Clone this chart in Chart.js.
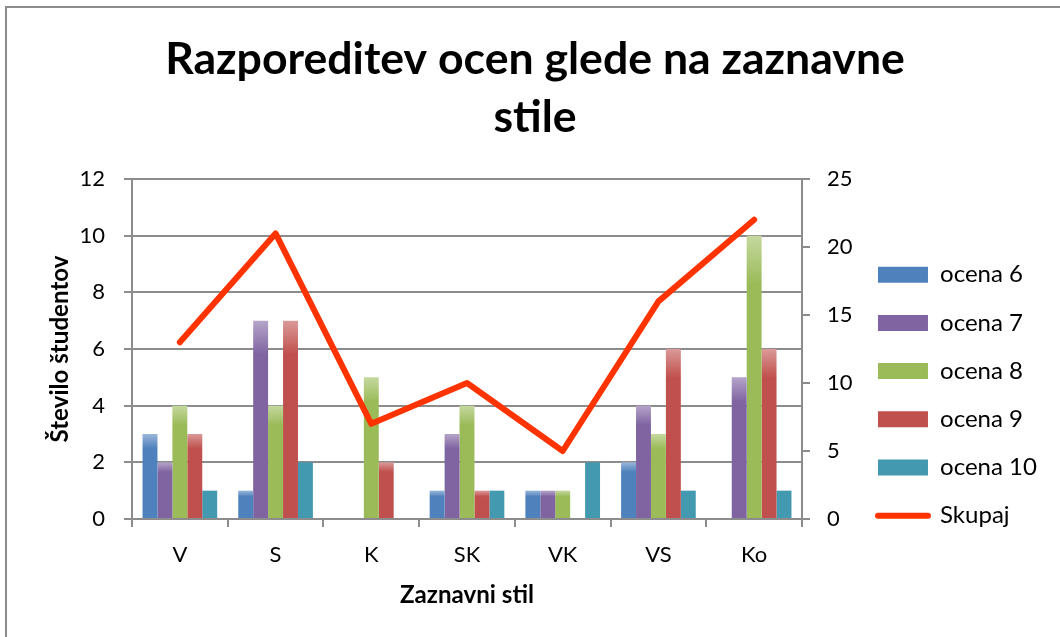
<!DOCTYPE html>
<html>
<head>
<meta charset="utf-8">
<script src="https://cdn.jsdelivr.net/npm/chart.js@4/dist/chart.umd.min.js"></script>
<style>
html,body{margin:0;padding:0;background:#fff;}
canvas{display:block;}
</style>
</head>
<body>
<canvas id="c" width="1060" height="637"></canvas>
<script>
// ---- data ----
const categories = ['V', 'S', 'K', 'SK', 'VK', 'VS', 'Ko'];
const ocena6  = [3, 1, 0, 1, 1, 2, 0];
const ocena7  = [2, 7, 0, 3, 1, 4, 5];
const ocena8  = [4, 4, 5, 4, 1, 3, 10];
const ocena9  = [3, 7, 2, 1, 0, 6, 6];
const ocena10 = [1, 2, 0, 1, 2, 1, 1];
const skupaj  = [13, 21, 7, 10, 5, 16, 22];
const seriesNames = ['ocena 6', 'ocena 7', 'ocena 8', 'ocena 9', 'ocena 10', 'Skupaj'];
const leftTicks  = [0, 2, 4, 6, 8, 10, 12];
const rightTicks = [0, 5, 10, 15, 20, 25];
const titleLines = ['Razporeditev ocen glede na zaznavne', 'stile'];
const xTitle = 'Zaznavni stil';
const yTitle = 'Število študentov';

// ---- styles ----
const FONT = 'Lato, "Open Sans", sans-serif';
const barColors = ['#4F81BD', '#8064A2', '#9BBB59', '#C0504D', '#4299B0'];
const lineColor = '#FF3300';
const gridColor = '#8c8c8c';

function fitSize(text, weight, target) {
  const c = document.createElement('canvas').getContext('2d');
  c.font = weight + ' 100px ' + FONT;
  return 100 * target / c.measureText(text).width;
}
function measure(text, weight, size) {
  const c = document.createElement('canvas').getContext('2d');
  c.font = weight + ' ' + size + 'px ' + FONT;
  return c.measureText(text).width;
}
function lighten(hex, f) {
  const n = parseInt(hex.slice(1), 16);
  const r = (n >> 16) & 255, g = (n >> 8) & 255, b = n & 255;
  const m = v => Math.round(v + (255 - v) * f);
  return 'rgb(' + m(r) + ',' + m(g) + ',' + m(b) + ')';
}

const titleSize = fitSize(titleLines[0], 'bold', 740);
const tickSize = fitSize('10', 'normal', 25.5);
const legSize = fitSize('ocena 10', 'normal', 97);
const axTitleSize = fitSize(xTitle, 'bold', 134);

// layout targets
const AREA_L = 132, AREA_R = 802;
const legBoxW = 50, legBoxH = 16;
const legItemH = Math.max(legSize, legBoxH);
const legPad = 48.2 - legItemH;
const textStart = 940;
const itemStart = textStart - legSize / 2 - legBoxW;
const legTextW = measure('ocena 10', 'normal', legSize);
const legendRight = itemStart + legBoxW + legSize / 2 + legTextW + 10;
const padR = 1060 - legendRight;
const padL = 10 + padR;
const legendLeft = itemStart - legPad;
const legTitleH = 274.7 - legItemH / 2 - legPad;

function gradFill(i) {
  const base = barColors[i];
  const light = lighten(base, 0.42);
  return (ctx) => {
    if (ctx.type !== 'data') return base;
    const ch = ctx.chart;
    const ys = ch.scales.y;
    if (!ys || !ch.chartArea || i === 4) return base;
    const top = ys.getPixelForValue(ctx.raw);
    const bot = ys.getPixelForValue(0);
    const h = bot - top;
    if (h < 2) return base;
    const g = ch.ctx.createLinearGradient(0, top, 0, top + Math.max(6, h * 0.17));
    g.addColorStop(0, light);
    g.addColorStop(1, base);
    return g;
  };
}

const barSeries = [ocena6, ocena7, ocena8, ocena9, ocena10];
const datasets = barSeries.map((vals, i) => ({
  type: 'bar',
  label: seriesNames[i],
  data: vals,
  backgroundColor: gradFill(i),
  borderWidth: 0,
  categoryPercentage: 0.78,
  barPercentage: 1.0,
  yAxisID: 'y',
  order: 1
}));
datasets.push({
  type: 'line',
  label: seriesNames[5],
  data: skupaj,
  borderColor: lineColor,
  backgroundColor: lineColor,
  borderWidth: 6,
  pointRadius: 0,
  tension: 0,
  borderJoinStyle: 'round',
  borderCapStyle: 'round',
  yAxisID: 'y2',
  order: 0
});

const borderPlugin = {
  id: 'frame',
  beforeDraw(chart) {
    const c = chart.ctx, w = chart.width, h = chart.height;
    c.save();
    c.fillStyle = '#fff';
    c.fillRect(0, 0, w, h);
    c.fillStyle = '#8c8c8c';
    c.fillRect(5, 6, 2, h - 6);
    c.fillRect(5, 6, w - 5, 2);
    c.restore();
  }
};

Chart.defaults.font.family = FONT;
Chart.defaults.color = '#000';

new Chart(document.getElementById('c'), {
  type: 'bar',
  data: { labels: categories, datasets: datasets },
  options: {
    responsive: false,
    animation: false,
    events: [],
    layout: { padding: { left: padL, right: padR, top: 0, bottom: 0 } },
    plugins: {
      title: {
        display: true,
        text: titleLines,
        color: '#000',
        font: { size: titleSize, weight: 'bold', lineHeight: 58 / titleSize },
        padding: { top: 31, bottom: 32 }
      },
      legend: {
        position: 'right',
        align: 'start',
        maxWidth: 1000,
        title: { display: true, text: ' ', font: { size: 1, lineHeight: 1 }, padding: { top: legTitleH - 1, bottom: 0 } },
        labels: {
          usePointStyle: true,
          pointStyleWidth: legBoxW,
          boxHeight: legBoxH,
          padding: legPad,
          color: '#000',
          font: { size: legSize },
          generateLabels(chart) {
            return chart.data.datasets.map((ds, i) => {
              const isLine = ds.type === 'line';
              return {
                text: ds.label,
                datasetIndex: i,
                hidden: false,
                fillStyle: isLine ? lineColor : barColors[i],
                strokeStyle: isLine ? lineColor : barColors[i],
                lineWidth: isLine ? 6 : 0,
                lineCap: 'round',
                pointStyle: isLine ? 'line' : 'rect',
                fontColor: '#000'
              };
            });
          }
        }
      },
      tooltip: { enabled: false }
    },
    scales: {
      x: {
        afterFit(s) { s.height = 118; },
        grid: { display: true, drawOnChartArea: false, drawTicks: true, tickLength: 8, color: gridColor, lineWidth: 2, offset: true },
        border: { display: true, color: gridColor, width: 2 },
        ticks: { color: '#000', font: { size: tickSize }, padding: 15, maxRotation: 0 },
        title: { display: true, text: xTitle, color: '#000', font: { size: axTitleSize, weight: 'bold' }, padding: { top: 0, bottom: 27 } }
      },
      y: {
        position: 'left',
        min: 0, max: 12,
        afterFit(s) { s.width = AREA_L - padL; },
        afterBuildTicks(s) { s.ticks = leftTicks.map(v => ({ value: v })); },
        grid: { color: gridColor, lineWidth: 2, drawTicks: true, tickLength: 8 },
        border: { display: true, color: gridColor, width: 2 },
        ticks: { color: '#000', font: { size: tickSize }, padding: 19 },
        title: { display: true, text: yTitle, color: '#000', font: { size: axTitleSize, weight: 'bold' }, padding: { top: 60 - padL - axTitleSize * 0.6, bottom: 0 } }
      },
      y2: {
        position: 'right',
        min: 0, max: 25,
        afterFit(s) { s.width = legendLeft - AREA_R; },
        afterBuildTicks(s) { s.ticks = rightTicks.map(v => ({ value: v })); },
        grid: { drawOnChartArea: false, color: gridColor, lineWidth: 2, drawTicks: true, tickLength: 8 },
        border: { display: true, color: gridColor, width: 2 },
        ticks: { color: '#000', font: { size: tickSize }, padding: 17 }
      }
    }
  },
  plugins: [borderPlugin]
});
</script>
</body>
</html>
